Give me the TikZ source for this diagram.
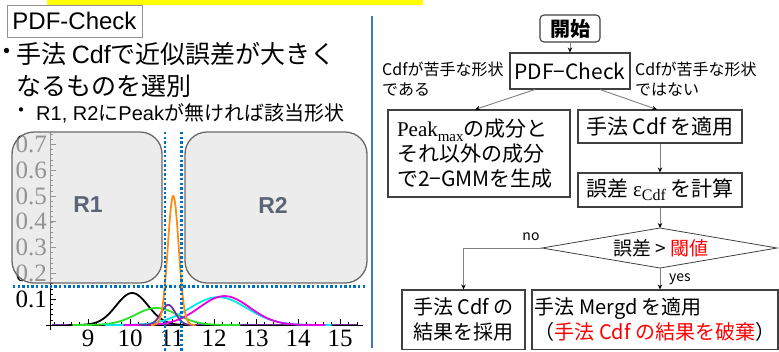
\documentclass[tikz,border=0pt]{standalone}
\usepackage{fontspec}
\setmainfont{Noto Sans CJK JP}
\newfontfamily\fSerif{Liberation Serif}
\newfontfamily\fArial{Liberation Sans}
\usetikzlibrary{arrows.meta}
\definecolor{dotblue}{RGB}{0,112,192}
\definecolor{sepblue}{RGB}{68,114,196}
\definecolor{boxgray}{RGB}{226,226,226}
\definecolor{boxedge}{RGB}{105,105,105}
\definecolor{rlabel}{RGB}{90,100,117}
\definecolor{orangec}{RGB}{255,140,20}
\definecolor{purplec}{RGB}{112,48,160}
\definecolor{greenc}{RGB}{40,225,40}
\definecolor{cyanc}{RGB}{0,232,232}
\definecolor{magc}{RGB}{232,0,232}
\definecolor{boxline}{RGB}{64,64,64}
\definecolor{arrgray}{RGB}{128,128,128}
\definecolor{hiyellow}{RGB}{255,255,0}
\newcommand\fsz[2]{\fontsize{#1pt}{#2pt}\selectfont}
\tikzset{
  fbox/.style={draw=boxline, line width=1.1pt, inner sep=0pt, fill=white},
  arr/.style={draw=arrgray, line width=0.9pt, -{Stealth[length=5pt,width=4.5pt,black]}},
  rbox/.style={draw=boxedge, line width=1.3pt, fill=boxgray, fill opacity=0.65, rounded corners=22pt},
  dotl/.style={draw=dotblue, line width=2.6pt, dash pattern=on 2.3pt off 2.3pt},
  curve/.style={line width=1.8pt, samples=120, smooth},
  txt/.style={inner sep=0pt, anchor=west, align=left},
}
\newcommand\gcurve[6]{%
  \draw[curve,#1] plot[domain=#5:#6] ({130+42*(\x-10)},{325-258*#3*exp(-((\x-#2)*(\x-#2))/(2*#4*#4))});}
\begin{document}
\begin{tikzpicture}[x=1pt,y=-1pt]
\useasboundingbox (0,0) rectangle (779,351);
\clip (0,0) rectangle (779,351);
% top strip
\fill[hiyellow] (47,0) rectangle (423,4.5);
% left panel texts
\node[draw=gray!85, line width=0.9pt, minimum width=135pt, minimum height=32pt, inner sep=0pt] (pc) at (74.5,21) {\fArial\fsz{24}{28}PDF-Check};
\node[inner sep=0pt] (b1) at (7,54) {\fsz{25}{30}・};
\node[txt] (t1) at (16,54) {\fsz{25}{30}手法 {\fArial Cdf}で近似誤差が大きく};
\node[txt] (t2) at (16,86) {\fsz{25}{30}なるものを選別};
\node[inner sep=0pt] (b2) at (21,113) {\fsz{20}{24}・};
\node[txt] (t3) at (36,113) {\fsz{20}{24}{\fArial R1, R2}に{\fArial Peak}が無ければ該当形状};
% axes
\draw[line width=1pt] (50,330) -- (50,132);
\draw[line width=1pt] (46,325) -- (363,325);
\foreach \k in {0,...,37} \draw[line width=0.6pt] (50,{325-5.16*\k}) -- ++(3,0);
\foreach \k in {1,...,7} \draw[line width=0.8pt] (50,{325-25.8*\k}) -- ++(6,0);
\foreach \k in {41,...,77} \draw[line width=0.6pt] ({130+42*(\k/5-10)},325) -- ++(0,-3);
\foreach \v in {9,...,15} \draw[line width=0.8pt] ({130+42*(\v-10)},325) -- ++(0,-6);
\foreach \k in {1,...,7} \node[anchor=east, inner sep=0pt] (yl\k) at (47,{325-25.8*\k}) {\fSerif\fsz{25}{25}0.\k};
\foreach \v in {9,...,15} \node[inner sep=0pt] (xl\v) at ({130+42*(\v-10)},338) {\fSerif\fsz{25}{25}\v};
% curves
\draw[line width=1.5pt, purplec] (52,324.3) -- (357,324.3);
\gcurve{black}{10.05}{0.124}{0.38}{8.53}{11.57}
\gcurve{greenc}{10.63}{0.066}{0.5}{8.63}{12.63}
\gcurve{cyanc}{12.1}{0.108}{0.68}{9.4}{14.8}
\gcurve{magc}{12.25}{0.112}{0.6}{9.85}{14.65}
\gcurve{purplec}{10.91}{0.078}{0.17}{10.23}{11.59}
\gcurve{orangec}{11.03}{0.5}{0.13}{10.5}{11.56}
% regions
\draw[rbox] (12,132) rectangle (162,283);
\draw[rbox] (185,132) rectangle (367,283);
\node[text=rlabel, font=\fArial\bfseries\fsz{23}{23}] (r1) at (88,205) {R1};
\node[text=rlabel, font=\fArial\bfseries\fsz{23}{23}] (r2) at (273,205) {R2};
\draw[dotl] (165,132) -- (165,351);
\draw[dotl] (181.7,132) -- (181.7,351);
\draw[dotl] (13,286.7) -- (367,286.7);
% separator
\draw[sepblue, line width=2.5pt] (372,16) -- (372,348);
% flowchart
\node[fbox, rounded corners=4pt, minimum width=60pt, minimum height=27pt, font=\fsz{20}{24}\bfseries] (start) at (570,28.5) {開始};
\node[fbox, minimum width=120pt, minimum height=36pt, font=\fsz{21}{25}] (pdf) at (570,71) {PDF−Check};
\node[txt, font=\fsz{16}{20}] (lblL) at (382,79) {Cdfが苦手な形状\\である};
\node[txt, font=\fsz{16}{20}] (lblR) at (635,79) {Cdfが苦手な形状\\ではない};
\node[fbox, minimum width=182pt, minimum height=87pt, text width=164pt, align=left, font=\fsz{21}{25}] (peak) at (479,153.5) {{\fSerif Peak\raisebox{-5pt}{\fsz{15}{15}max}}の成分と\\それ以外の成分\\で2−GMMを生成};
\node[fbox, minimum width=164pt, minimum height=33pt, font=\fsz{21}{25}] (cdf) at (660,126.5) {手法 Cdf を適用};
\node[fbox, minimum width=164pt, minimum height=34pt, font=\fsz{21}{25}] (err) at (660,190) {誤差 {\fSerif ε\raisebox{-4pt}{\fsz{16}{16}Cdf}} を計算};
\coordinate (dT) at (660,228);
\coordinate (dB) at (660,268);
\coordinate (dL) at (542,248);
\coordinate (dR) at (777,248);
\draw[draw=boxline, line width=0.8pt] (dT) -- (dR) -- (dB) -- (dL) -- cycle;
\node[inner sep=0pt, font=\fsz{19}{23}] (dtext) at (661,248) {誤差 > {\color{red}閾値}};
\node[inner sep=0pt, font=\fsz{14}{16}] (nolbl) at (531,237) {no};
\node[inner sep=0pt, font=\fsz{14}{16}] (yeslbl) at (680,279) {yes};
\node[fbox, minimum width=123pt, minimum height=59.5pt, align=left, font=\fsz{20}{25}] (nobox) at (463.5,319.75) {手法 Cdf の\\結果を採用};
\node[fbox, minimum width=246pt, minimum height=59.5pt, align=left, font=\fsz{20}{25}] (yesbox) at (655,319.75) {手法 Mergd を適用\\（{\color{red}手法 Cdf の結果を破棄}）};
\draw[arr] (start) -- (pdf);
\draw[arr] ([xshift=-35pt]pdf.south) -- ([xshift=-4pt]peak.north);
\draw[arr] ([xshift=30pt]pdf.south) -- ([xshift=-3pt]cdf.north);
\draw[arr] (cdf) -- (err);
\draw[arr] (err) -- (dT);
\draw[arr] (dL) -| (nobox.north);
\draw[arr] (dB) -- (dB |- yesbox.north);
\end{tikzpicture}
\end{document}
